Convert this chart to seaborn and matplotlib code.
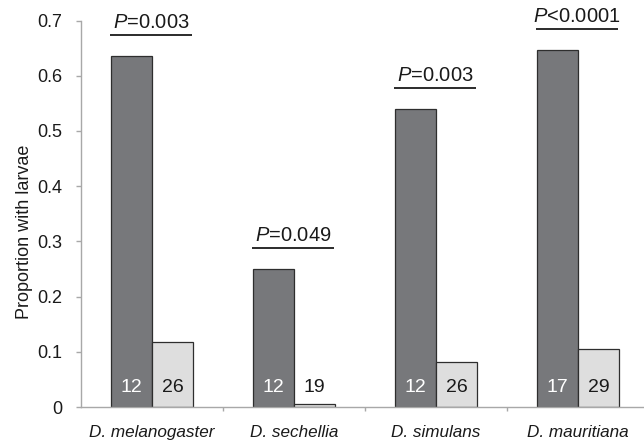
import matplotlib
matplotlib.use("Agg")
import matplotlib.pyplot as plt
import seaborn as sns
import pandas as pd
from matplotlib.ticker import FixedLocator

species = ["D. melanogaster", "D. sechellia", "D. simulans", "D. mauritiana"]
groups = ["dark", "light"]
dark_values = [0.636, 0.250, 0.540, 0.646]
light_values = [0.117, 0.005, 0.081, 0.105]
dark_counts = [12, 12, 12, 17]
light_counts = [26, 19, 26, 29]
p_labels = ["=0.003", "=0.049", "=0.003", "<0.0001"]
y_ticks = [0, 0.1, 0.2, 0.3, 0.4, 0.5, 0.6, 0.7]
y_tick_labels = ["0", "0.1", "0.2", "0.3", "0.4", "0.5", "0.6", "0.7"]

df = pd.DataFrame({
    "species": species * 2,
    "group": ["dark"] * 4 + ["light"] * 4,
    "proportion": dark_values + light_values,
})

sns.set_style("white")
plt.rcParams["font.family"] = ["Liberation Sans", "DejaVu Sans"]
plt.rcParams["mathtext.fontset"] = "custom"
plt.rcParams["mathtext.it"] = "Liberation Sans:italic"
plt.rcParams["mathtext.rm"] = "Liberation Sans"

DARK = "#77787b"
LIGHT = "#dedede"
EDGE = "#2e2e2e"
SPINE = "#a8a8a8"
TXT = "#1a1a1a"

fig = plt.figure(figsize=(6.44, 4.42), dpi=100)
ax = fig.add_axes([81 / 644, 35 / 442, (649 - 81) / 644, 386.5 / 442])

sns.barplot(data=df, x="species", y="proportion", hue="group", hue_order=groups,
            order=species, palette=[DARK, LIGHT], saturation=1, width=0.577,
            edgecolor=EDGE, linewidth=0.9, legend=False, ax=ax)

ax.set_xlim(-0.5, 3.5)
ax.set_ylim(0, 0.7)

for s in ["top", "right"]:
    ax.spines[s].set_visible(False)
for s in ["left", "bottom"]:
    ax.spines[s].set_color(SPINE)
    ax.spines[s].set_linewidth(1.0)

ax.set_yticks(y_ticks)
ax.set_yticklabels(y_tick_labels, fontsize=13, color=TXT)
ax.tick_params(axis="y", direction="out", length=3.5, width=1, color=SPINE, pad=10, left=True)

ax.set_xticks(range(len(species)))
ax.set_xticklabels(species, fontsize=12.3, style="italic", color=TXT)
ax.tick_params(axis="x", which="major", length=0, pad=13)
ax.xaxis.set_minor_locator(FixedLocator([0.5, 1.5, 2.5, 3.5]))
ax.tick_params(axis="x", which="minor", direction="out", length=3, width=1, color=SPINE, bottom=True)

ax.set_xlabel("")
ax.set_ylabel("Proportion with larvae", fontsize=13, color=TXT)
ax.yaxis.set_label_coords(-0.084, 0.452)

dark_bars = ax.containers[0]
light_bars = ax.containers[1]

for i in range(len(species)):
    db = dark_bars[i]
    lb = light_bars[i]
    ax.text(db.get_x() + db.get_width() / 2, 0.036, str(dark_counts[i]),
            ha="center", va="center", color="white", fontsize=14)
    ax.text(lb.get_x() + lb.get_width() / 2, 0.036, str(light_counts[i]),
            ha="center", va="center", color=TXT, fontsize=14)
    top = max(dark_values[i], light_values[i])
    yl = top + 0.038
    x0 = db.get_x() - 0.005
    x1 = lb.get_x() + lb.get_width() - 0.01
    ax.plot([x0, x1], [yl, yl], color=TXT, lw=1.3, clip_on=False, solid_capstyle="butt")
    ax.text((x0 + x1) / 2, yl + 0.013, r"$\mathit{P}$" + p_labels[i],
            ha="center", va="baseline", fontsize=14.5, color=TXT, clip_on=False)

fig.savefig("out.png", dpi=100)
